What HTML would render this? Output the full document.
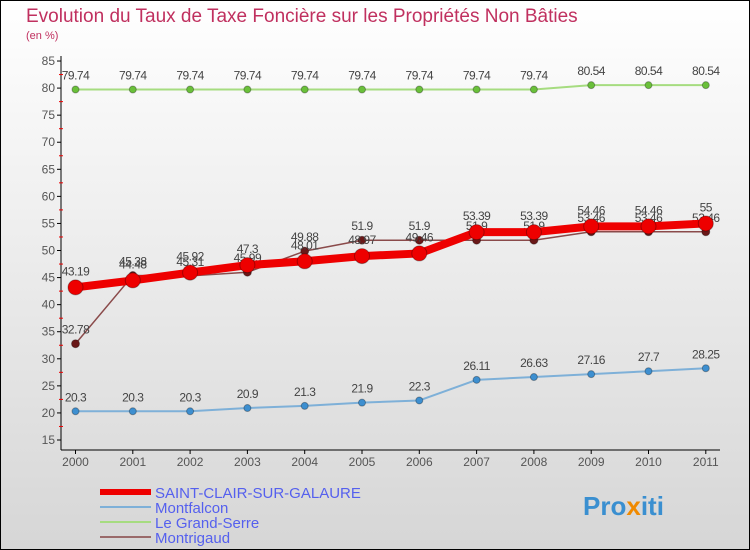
<!DOCTYPE html>
<html><head><meta charset="utf-8"><style>
body{margin:0;}
#c{width:750px;height:550px;position:relative;overflow:hidden;font-family:"Liberation Sans",sans-serif;background:linear-gradient(#ffffff,#d6d6d6);}
</style></head><body>
<div id="c">
<svg id="s" width="750" height="550" xmlns="http://www.w3.org/2000/svg">
<rect x="0.5" y="0.5" width="749" height="549" fill="none" stroke="#000"/>
<text x="26" y="22" font-size="19" fill="#c0305f">Evolution du Taux de Taxe Foncière sur les Propriétés Non Bâties</text>
<text x="26" y="39" font-size="11" fill="#c0305f">(en %)</text>
<g id="axes"></g><g id="series"></g><g id="legend"></g>
<text x="583" y="515" font-size="26" font-weight="bold" fill="#3a8fd0">Pro<tspan fill="#f08a00">x</tspan>iti</text>
</svg>
</div>
<script>
const years=[2000,2001,2002,2003,2004,2005,2006,2007,2008,2009,2010,2011];
const yTicks=[15,20,25,30,35,40,45,50,55,60,65,70,75,80,85];
const saintClair=[43.19,44.48,45.92,47.3,48.01,48.97,49.46,53.39,53.39,54.46,54.46,55];
const montfalcon=[20.3,20.3,20.3,20.9,21.3,21.9,22.3,26.11,26.63,27.16,27.7,28.25];
const grandSerre=[79.74,79.74,79.74,79.74,79.74,79.74,79.74,79.74,79.74,80.54,80.54,80.54];
const montrigaud=[32.78,45.38,45.31,45.99,49.88,51.9,51.9,51.9,51.9,53.46,53.46,53.46];
const NS="http://www.w3.org/2000/svg";
const X=i=>75.5+i*57.3;
const Y=v=>440-(v-15)*5.414;
function mk(tag,attrs,parent){const e=document.createElementNS(NS,tag);for(const k in attrs)e.setAttribute(k,attrs[k]);parent.appendChild(e);return e;}
const ax=document.getElementById('axes');
let l=mk('line',{x1:61,y1:56,x2:61,y2:450,stroke:'#000'},ax);


l=mk('line',{x1:61,y1:450,x2:720,y2:450,stroke:'#000'},ax);


yTicks.forEach(v=>{
 mk('line',{x1:57,y1:Y(v),x2:61,y2:Y(v),stroke:'#000'},ax);
 if(v<85) mk('line',{x1:59,y1:Y(v+2.5),x2:63,y2:Y(v+2.5),stroke:'#e00'},ax);
 const t=mk('text',{x:55,y:Y(v)+4,'font-size':12,'text-anchor':'end',fill:'#555'},ax);t.textContent=v;
 
 
});
years.forEach((y,i)=>{
 mk('line',{x1:X(i),y1:450,x2:X(i),y2:454,stroke:'#000'},ax);
 const t=mk('text',{x:X(i),y:466,'font-size':12,'text-anchor':'middle',fill:'#555'},ax);t.textContent=y;
 
 
});
const sg=document.getElementById('series');
function series(data,name,color,w,r,fill,labelDy){
 const g=mk('g',{},sg);
 
 
 mk('polyline',{points:data.map((v,i)=>X(i)+','+Y(v)).join(' '),fill:'none',stroke:color,'stroke-width':w,'stroke-linejoin':'round'},g);
 data.forEach((v,i)=>{
  const c=mk('circle',{cx:X(i),cy:Y(v),r:r,fill:fill,stroke:'rgba(0,0,0,0.3)'},g);
  
  
  const t=mk('text',{x:X(i),y:Y(v)+labelDy,'font-size':12,'text-anchor':'middle',fill:'#444','letter-spacing':'-0.5'},g);
  t.textContent=String(v).replace('.',',').replace(',','.');
  
  
 });
}
series(grandSerre,'le-grand-serre','#a6dc80',2,3.5,'#6ac03a',-10);
series(montfalcon,'montfalcon','#7eb0d8',2,3.5,'#3d8fd0',-10);
series(montrigaud,'montrigaud','#8a4a4a',1.5,4,'#6a1818',-10);
series(saintClair,'saint-clair-sur-galaure','#ee0000',8,7.5,'#ee0000',-12);
const lg=document.getElementById('legend');
const items=[['SAINT-CLAIR-SUR-GALAURE','#ee0000',6],['Montfalcon','#7eb0d8',2],['Le Grand-Serre','#a6dc80',2],['Montrigaud','#9a6a6a',2]];
items.forEach((it,i)=>{
 const y=492+i*15;
 const g=mk('g',{},lg);
 
 
 mk('line',{x1:100,y1:y,x2:151,y2:y,stroke:it[1],'stroke-width':it[2]},g);
 const t=mk('text',{x:155,y:y+6,'font-size':15,fill:'#5560ee'},g);t.textContent=it[0];
});
</script>
</body></html>
